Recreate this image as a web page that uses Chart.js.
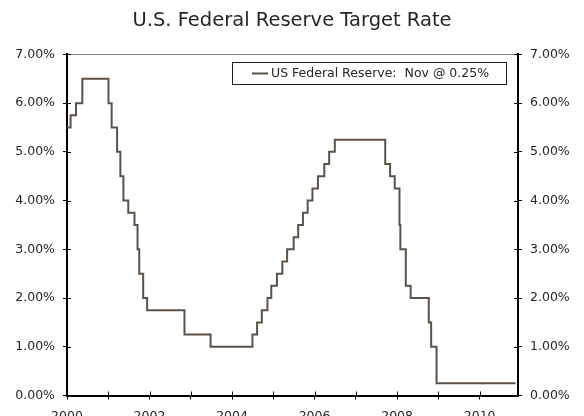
<!DOCTYPE html>
<html>
<head>
<meta charset="utf-8">
<script src="https://cdn.jsdelivr.net/npm/chart.js@4"></script>
<style>
  html, body { margin: 0; padding: 0; background: #fff; overflow: hidden; }
  #wrap { width: 584px; height: 428px; }
</style>
</head>
<body>
<div id="wrap"><canvas id="fedChart" width="584" height="428"></canvas></div>
<script>
// FOMC target rate: date the rate took effect, and the new rate (%)
const rateDates = [
  "2000-01-01", "2000-02-02", "2000-03-21", "2000-05-16",
  "2001-01-03", "2001-01-31", "2001-03-20", "2001-04-18", "2001-05-15",
  "2001-06-27", "2001-08-21", "2001-09-17", "2001-10-02", "2001-11-06", "2001-12-11",
  "2002-11-06", "2003-06-25",
  "2004-06-30", "2004-08-10", "2004-09-21", "2004-11-10", "2004-12-14",
  "2005-02-02", "2005-03-22", "2005-05-03", "2005-06-30", "2005-08-09",
  "2005-09-20", "2005-11-01", "2005-12-13",
  "2006-01-31", "2006-03-28", "2006-05-10", "2006-06-29",
  "2007-09-18", "2007-10-31", "2007-12-11",
  "2008-01-22", "2008-01-30", "2008-03-18", "2008-04-30",
  "2008-10-08", "2008-10-29", "2008-12-16",
  "2010-11-15"
];
const rateValues = [
  5.50, 5.75, 6.00, 6.50,
  6.00, 5.50, 5.00, 4.50, 4.00,
  3.75, 3.50, 3.00, 2.50, 2.00, 1.75,
  1.25, 1.00,
  1.25, 1.50, 1.75, 2.00, 2.25,
  2.50, 2.75, 3.00, 3.25, 3.50,
  3.75, 4.00, 4.25,
  4.50, 4.75, 5.00, 5.25,
  4.75, 4.50, 4.25,
  3.50, 3.00, 2.25, 2.00,
  1.50, 1.00, 0.25,
  0.25
];
const yTicks = [0, 1, 2, 3, 4, 5, 6, 7];
const xStart = 2000;
const xEnd = 2010.93;
const seriesLabel = "US Federal Reserve:  Nov @ 0.25%";
const titleText = "U.S. Federal Reserve Target Rate";

const FONT = "'DejaVu Sans', Verdana, sans-serif";
const LINE_COLOR = "#5c5248";
const TEXT_COLOR = "#262626";

function toYear(s) {
  const [y, m, d] = s.split("-").map(Number);
  const start = Date.UTC(y, 0, 1), end = Date.UTC(y + 1, 0, 1);
  return y + (Date.UTC(y, m - 1, d) - start) / (end - start);
}

const points = rateDates.map((d, i) => ({ x: toYear(d), y: rateValues[i] }));

// inner half of the tick marks, so they cross the axis lines
const crossTicks = {
  id: "crossTicks",
  afterDraw(chart) {
    const ctx = chart.ctx, a = chart.chartArea;
    ctx.save();
    ctx.strokeStyle = "#000";
    ctx.lineWidth = 1;
    ctx.beginPath();
    chart.scales.y.ticks.forEach(t => {
      const py = Math.round(chart.scales.y.getPixelForValue(t.value)) + 0.5;
      ctx.moveTo(a.left, py); ctx.lineTo(a.left + 4, py);
      ctx.moveTo(a.right - 4, py); ctx.lineTo(a.right, py);
    });
    chart.scales.x.ticks.forEach(t => {
      const px = Math.round(chart.scales.x.getPixelForValue(t.value)) + 0.5;
      ctx.moveTo(px, a.bottom); ctx.lineTo(px, a.bottom - 4);
    });
    ctx.stroke();
    ctx.restore();
  }
};

// boxed legend inside the plot
const boxLegend = {
  id: "boxLegend",
  afterDraw(chart) {
    const ctx = chart.ctx;
    const ds = chart.data.datasets[0];
    ctx.save();
    ctx.fillStyle = "#fff";
    ctx.fillRect(232, 62, 275, 23);
    ctx.strokeStyle = "#222";
    ctx.lineWidth = 1;
    ctx.strokeRect(232.5, 62.5, 274, 22);
    ctx.strokeStyle = ds.borderColor;
    ctx.lineWidth = 2;
    ctx.beginPath();
    ctx.moveTo(252, 73.5); ctx.lineTo(268, 73.5);
    ctx.stroke();
    ctx.fillStyle = TEXT_COLOR;
    ctx.font = "12.5px " + FONT;
    ctx.textBaseline = "middle";
    ctx.fillText(ds.label, 271, 74);
    ctx.restore();
  }
};

const yTickOpts = {
  autoSkip: false,
  color: TEXT_COLOR,
  font: { family: FONT, size: 12.5 },
  padding: 8,
  callback: v => v.toFixed(2) + "%"
};

new Chart(document.getElementById("fedChart"), {
  type: "line",
  data: {
    datasets: [{
      label: seriesLabel,
      data: points,
      borderColor: LINE_COLOR,
      borderWidth: 2,
      stepped: true,
      pointRadius: 0,
      fill: false
    }]
  },
  options: {
    responsive: false,
    animation: false,
    layout: { padding: 0 },
    plugins: {
      legend: { display: false },
      tooltip: { enabled: false },
      title: {
        display: true,
        text: titleText,
        color: TEXT_COLOR,
        font: { family: FONT, size: 19.5, weight: "normal" },
        padding: { top: 9, bottom: 22 }
      }
    },
    scales: {
      x: {
        type: "linear",
        min: xStart,
        max: xEnd,
        afterFit: s => { s.height = 428 - 395.5; },
        border: { color: "#000", width: 2 },
        grid: { display: true, drawOnChartArea: false, tickLength: 4, color: "#000" },
        ticks: {
          stepSize: 1,
          includeBounds: false,
          autoSkip: false,
          maxRotation: 0,
          padding: 10,
          color: TEXT_COLOR,
          font: { family: FONT, size: 12.5 },
          callback: v => (v % 2 === 0 ? String(v) : "")
        }
      },
      y: {
        position: "left",
        min: 0,
        max: 7,
        afterFit: s => { s.width = 67; },
        afterBuildTicks: s => { s.ticks = yTicks.map(v => ({ value: v })); },
        border: { color: "#000", width: 2 },
        grid: {
          drawOnChartArea: true,
          tickLength: 4,
          tickColor: "#000",
          color: c => (c.tick && c.tick.value === 7 ? "#888" : "rgba(0,0,0,0)")
        },
        ticks: yTickOpts
      },
      y2: {
        position: "right",
        min: 0,
        max: 7,
        afterFit: s => { s.width = 584 - 518; },
        afterBuildTicks: s => { s.ticks = yTicks.map(v => ({ value: v })); },
        border: { color: "#000", width: 2 },
        grid: { drawOnChartArea: false, tickLength: 4, color: "#000" },
        ticks: yTickOpts
      }
    }
  },
  plugins: [crossTicks, boxLegend]
});
</script>
</body>
</html>
